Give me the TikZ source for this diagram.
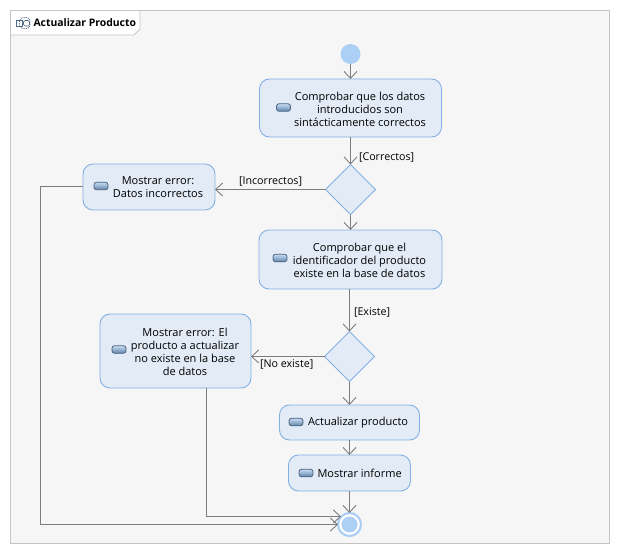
\documentclass[tikz,border=0pt]{standalone}
\usepackage{fontspec}
\setmainfont{Open Sans}
\usetikzlibrary{arrows.meta,shapes.geometric,calc}
\definecolor{fr}{RGB}{196,196,196}
\definecolor{bgf}{RGB}{246,246,246}
\definecolor{nodeb}{RGB}{130,176,228}
\definecolor{nodef}{RGB}{226,235,246}
\definecolor{circf}{RGB}{172,208,245}
\definecolor{ln}{RGB}{125,125,125}
\tikzset{
 every node/.style={font=\fontsize{11}{13}\selectfont,text=black,inner sep=0pt,outer sep=0pt},
 act/.style={draw=nodeb,fill=nodef,rounded corners=10pt,line width=0.9pt,align=center},
 dec/.style={draw=nodeb,fill=nodef,line width=0.9pt,diamond,aspect=1,inner sep=0pt,minimum width=50pt,minimum height=50pt},
 flow/.style={draw=ln,line width=1pt,-{Straight Barb[length=7pt,width=13pt,line width=0.9pt]}},
 pill/.style={draw=nodeb!55!black,top color=nodeb!45!white,bottom color=nodeb!75!black,rounded corners=2.5pt,line width=0.8pt,minimum width=14pt,minimum height=7.5pt},
 lab/.style={align=left,font=\fontsize{10.7}{13}\selectfont}
}
\begin{document}
\begin{tikzpicture}[x=1pt,y=-1pt]
\useasboundingbox (0,0) rectangle (620,553);
\fill[white] (0,0) rectangle (620,553);
\draw[fr,fill=bgf,line width=0.8pt] (10.5,10.5) rectangle (609.5,543);
\draw[fr,fill=white,line width=0.8pt] (10.5,10.5) -- (140,10.5) -- (140,29) -- (134,35) -- (10.5,35) -- cycle;
% frame icon
\draw[nodeb!50!black,densely dotted,rounded corners=3.5pt,line width=0.8pt] (19.5,17.5) rectangle (30,28.5);
\draw[nodeb!60!black,line width=0.7pt] (16,20.5) rectangle (22,26);
\draw[nodeb!60!black,line width=0.7pt,rounded corners=1.5pt] (23.5,20.5) rectangle (29.5,26);
\node[anchor=west,font=\fontsize{10.4}{13}\selectfont\bfseries] (title) at (33.5,23) {Actualizar Producto};
% nodes
\node[circle,fill=circf,minimum size=20pt] (start) at (350.5,54) {};
\node[act,minimum width=182pt,minimum height=58pt] (a1) at (350.5,108) {};
\node[pill] (i1) at (283.5,107.5) {};
\node (t1) at (360,109) [align=center] {Comprobar que los datos\\introducidos son\\sintácticamente correctos};
\node[dec] (d1) at (350.5,189.5) {};
\node[act,minimum width=132pt,minimum height=46pt] (e1) at (149,187) {};
\node[pill] (i2) at (101,186) {};
\node (t2) at (158,187.5) [align=center] {Mostrar error:\\Datos incorrectos};
\node[act,minimum width=183pt,minimum height=59pt] (a2) at (350.5,259.5) {};
\node[pill] (i3) at (280,258) {};
\node (t3) at (359.5,260) [align=center] {Comprobar que el\\identificador del producto\\existe en la base de datos};
\node[dec] (d2) at (349.5,356.5) {};
\node[act,minimum width=151pt,minimum height=74pt] (e2) at (175.5,351) {};
\node[pill] (i4) at (119,349.5) {};
\node (t4) at (185,352) [align=center] {Mostrar error: El\\producto a actualizar\\no existe en la base\\de datos};
\node[act,minimum width=140pt,minimum height=35pt] (a3) at (349.5,422.5) {};
\node[pill] (i5) at (296,422) {};
\node[anchor=west] (t5) at (308,422.5) {Actualizar producto};
\node[act,minimum width=122pt,minimum height=36pt] (a4) at (349.5,473) {};
\node[pill] (i6) at (306,473) {};
\node[anchor=west] (t6) at (317.5,473.5) {Mostrar informe};
\node[circle,draw=circf,fill=white,line width=2.2pt,minimum size=23pt] (fin) at (349.5,524.5) {};
\node[circle,fill=circf,minimum size=16pt] (fin2) at (349.5,524.5) {};
% connectors
\draw[flow] (start) -- (a1);
\draw[flow] (a1) -- (d1);
\draw[flow] (d1) -- (e1.east |- d1);
\draw[flow] (d1) -- (a2);
\draw[flow] (a2.south -| d2) -- (d2);
\draw[flow] (d2) -- (e2.east |- d2);
\draw[flow] (d2) -- (a3);
\draw[flow] (a3) -- (a4);
\draw[flow] (a4) -- (fin);
\coordinate (c1) at (40.5,186.5);
\coordinate (c2) at (40.5,524.5);
\coordinate (c3) at (206.5,516.5);
\draw[flow] (e1.west |- c1) -- (c1) -- (c2) -- (fin.west |- c2);
\draw[flow] (e2.south -| c3) -- (c3) -- ($(fin.west |- c3)+(3,0)$);
% labels
\node[lab,anchor=west] (l1) at (359,157) {[Correctos]};
\node[lab,anchor=west] (l2) at (239,182) {[Incorrectos]};
\node[lab,anchor=west] (l3) at (354,312) {[Existe]};
\node[lab,anchor=west] (l4) at (260,364) {[No existe]};
\end{tikzpicture}
\end{document}
